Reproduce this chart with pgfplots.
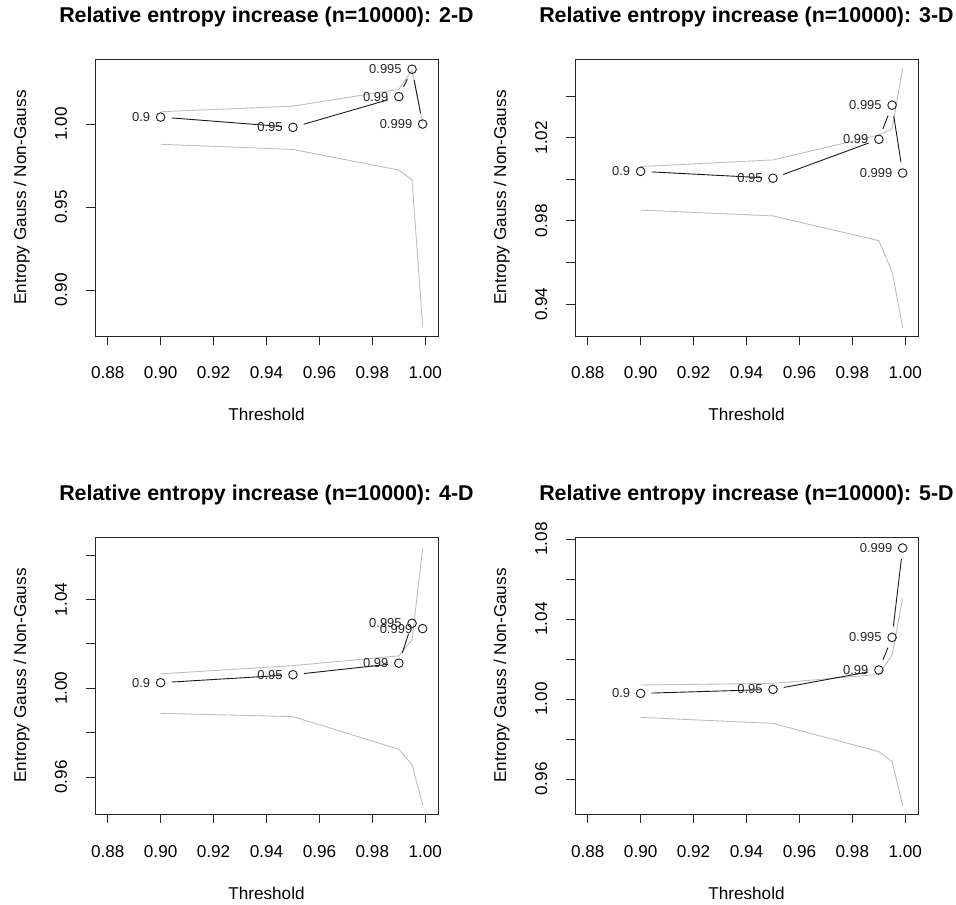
\documentclass[border=0pt]{standalone}
\usepackage{fontspec}
\setmainfont{Liberation Sans}
\usepackage{pgfplots}
\usepackage{pgfplotstable}
\pgfplotsset{compat=1.18}

\definecolor{envelope}{RGB}{190,190,190}

% ---- data: ratio of entropies per threshold, with lower/upper bands ----
\pgfplotstableread{
x     y      lab
0.900 1.0042 0.9
0.950 0.9980 0.95
0.990 1.0165 0.99
0.995 1.0330 0.995
0.999 1.0000 0.999
}\ptsA
\pgfplotstableread{
x     up      lo
0.900 1.0074  0.9878
0.950 1.0108  0.9847
0.990 1.0209  0.9723
0.995 1.0325  0.9663
0.999 1.0005  0.8780
}\bandA

\pgfplotstableread{
x     y      lab
0.900 1.0038 0.9
0.950 1.0005 0.95
0.990 1.0192 0.99
0.995 1.0356 0.995
0.999 1.0030 0.999
}\ptsB
\pgfplotstableread{
x     up      lo
0.900 1.0061  0.9852
0.950 1.0093  0.9824
0.990 1.0213  0.9705
0.995 1.0242  0.9556
0.999 1.0533  0.9290
}\bandB

\pgfplotstableread{
x     y      lab
0.900 1.0025 0.9
0.950 1.0061 0.95
0.990 1.0113 0.99
0.995 1.0293 0.995
0.999 1.0269 0.999
}\ptsC
\pgfplotstableread{
x     up      lo
0.900 1.0065  0.9887
0.950 1.0102  0.9872
0.990 1.0146  0.9725
0.995 1.0218  0.9654
0.999 1.0632  0.9474
}\bandC

\pgfplotstableread{
x     y      lab
0.900 1.0028 0.9
0.950 1.0048 0.95
0.990 1.0145 0.99
0.995 1.0308 0.995
0.999 1.0755 0.999
}\ptsD
\pgfplotstableread{
x     up      lo
0.900 1.0070  0.9908
0.950 1.0078  0.9878
0.990 1.0123  0.9737
0.995 1.0220  0.9687
0.999 1.0503  0.9467
}\bandD

\pgfplotsset{
  every axis title/.style={at={(axis description cs:0.5,1)}, anchor=base, yshift=36bp,
    font=\bfseries\fontsize{21.5}{21.5}\selectfont},
  every axis x label/.style={at={(axis description cs:0.5,0)}, anchor=base, yshift=-85bp,
    font=\fontsize{17.2}{17.2}\selectfont},
  every axis y label/.style={at={(axis description cs:0,0.5)}, xshift=-69bp, rotate=90, anchor=base,
    font=\fontsize{17.2}{17.2}\selectfont},
  panel/.style={
    scale only axis, width=343bp, height=277bp, anchor=south west,
    xmin=0.8752, xmax=1.0048,
    xtick={0.88,0.90,0.92,0.94,0.96,0.98,1.00},
    xticklabels={0.88,0.90,0.92,0.94,0.96,0.98,1.00},
    xtick pos=bottom, ytick pos=left, tick align=outside,
    major tick length=9bp,
    tick style={black!85, line width=0.8bp},
    axis line style={black!85, line width=0.8bp},
    ticklabel style={font=\fontsize{17.2}{17.2}\selectfont, inner sep=0pt},
    xticklabel style={anchor=base, yshift=-34bp},
    yticklabel style={xshift=-19bp, rotate=90, anchor=base},
    xlabel={Threshold}, ylabel={Entropy Gauss / Non-Gauss},
    clip=true,
  },
  band/.style={envelope, line width=0.9bp, forget plot},
  seg/.style={black!90, line width=0.9bp, shorten <=11bp, shorten >=11bp, forget plot},
  pts/.style={only marks, mark=o, mark size=4.3bp, black!90,
    mark options={line width=0.9bp},
    point meta=explicit symbolic, nodes near coords,
    every node near coord/.append style={anchor=east, inner sep=0pt, xshift=-10bp,
      font=\fontsize{13}{13}\selectfont, black!85}},
}

% one connecting segment of table #1 between the two points whose thresholds lie in #2..#3
\newcommand\segs[3]{\addplot[seg, restrict x to domain=#2:#3] table[x=x, y=y] {#1};}
\newcommand\allsegs[1]{\segs{#1}{0.899}{0.951}\segs{#1}{0.949}{0.991}\segs{#1}{0.989}{0.9955}}

\begin{document}
\begin{tikzpicture}[x=1bp, y=1bp]
\useasboundingbox (0,0) rectangle (956,905);

% 2-D
\begin{axis}[panel, at={(95bp,569bp)},
  ymin=0.8723, ymax=1.0392,
  ytick={0.90,0.95,1.00}, yticklabels={0.90,0.95,1.00},
  title={Relative entropy increase (n=10000): 2-D}]
  \addplot[band] table[x=x, y=up] {\bandA};
  \addplot[band] table[x=x, y=lo] {\bandA};
  \allsegs{\ptsA}\segs{\ptsA}{0.9945}{0.9995}
  \addplot[pts] table[x=x, y=y, meta=lab] {\ptsA};
\end{axis}

% 3-D
\begin{axis}[panel, at={(575bp,569bp)},
  ymin=0.9247, ymax=1.0578,
  ytick={0.94,0.96,0.98,1.00,1.02,1.04}, yticklabels={0.94,,0.98,,1.02,},
  title={Relative entropy increase (n=10000): 3-D}]
  \addplot[band] table[x=x, y=up] {\bandB};
  \addplot[band] table[x=x, y=lo] {\bandB};
  \allsegs{\ptsB}\segs{\ptsB}{0.9945}{0.9995}
  \addplot[pts] table[x=x, y=y, meta=lab] {\ptsB};
\end{axis}

% 4-D (last two points too close for a visible connector)
\begin{axis}[panel, at={(95bp,91bp)},
  ymin=0.9433, ymax=1.0682,
  ytick={0.96,0.98,1.00,1.02,1.04,1.06}, yticklabels={0.96,,1.00,,1.04,},
  title={Relative entropy increase (n=10000): 4-D}]
  \addplot[band] table[x=x, y=up] {\bandC};
  \addplot[band] table[x=x, y=lo] {\bandC};
  \allsegs{\ptsC}
  \addplot[pts] table[x=x, y=y, meta=lab] {\ptsC};
\end{axis}

% 5-D
\begin{axis}[panel, at={(575bp,91bp)},
  ymin=0.9425, ymax=1.0810,
  ytick={0.96,0.98,1.00,1.02,1.04,1.06,1.08}, yticklabels={0.96,,1.00,,1.04,,1.08},
  title={Relative entropy increase (n=10000): 5-D}]
  \addplot[band] table[x=x, y=up] {\bandD};
  \addplot[band] table[x=x, y=lo] {\bandD};
  \allsegs{\ptsD}\segs{\ptsD}{0.9945}{0.9995}
  \addplot[pts] table[x=x, y=y, meta=lab] {\ptsD};
\end{axis}
\end{tikzpicture}
\end{document}
